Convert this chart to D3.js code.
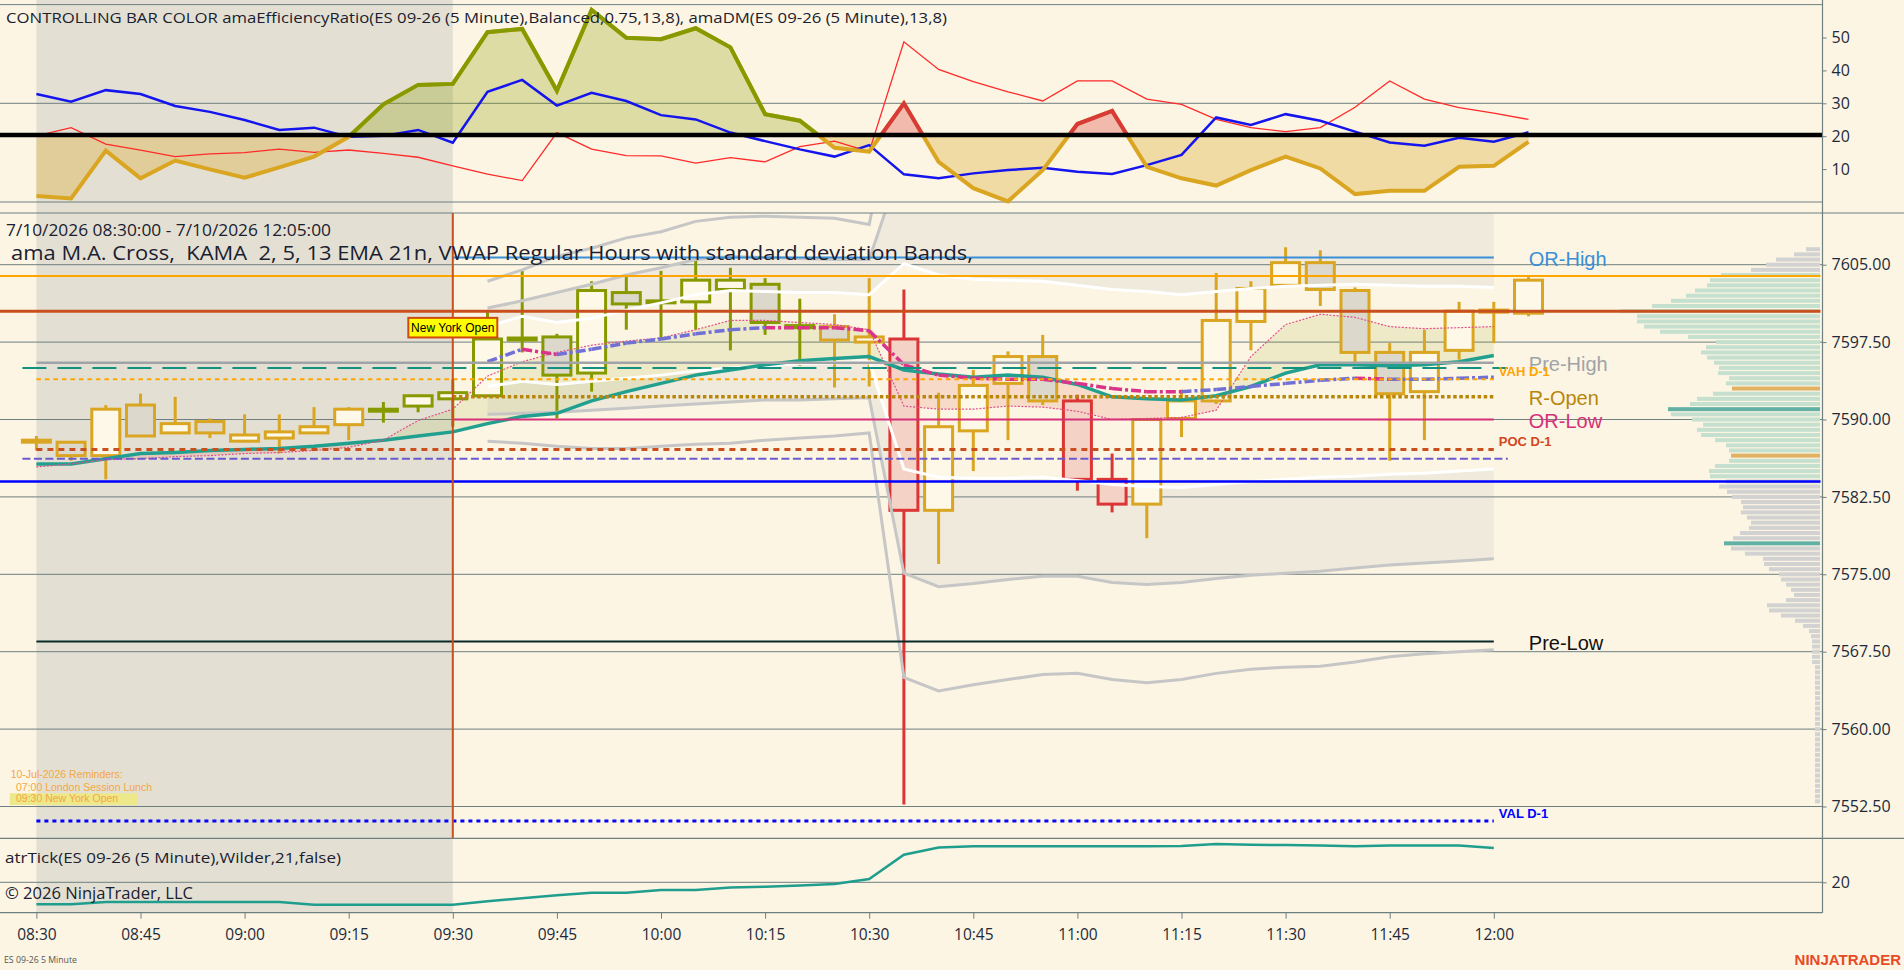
<!DOCTYPE html>
<html>
<head>
<meta charset="utf-8">
<title>ES 09-26 5 Minute</title>
<script src="https://cdn.jsdelivr.net/npm/d3@7"></script>
<style>
  html, body { margin: 0; padding: 0; background: #fcf5e3; overflow: hidden; }
  .axis text { font-family: "Open Sans", sans-serif; fill: #1e2a3a; }
  .axis line { stroke: #6e7f80; }
  .axis path { display: none; }
</style>
</head>
<body>
<div class="chart"></div>
<script>
// 5 minute bars, 7/10/2026
var barTimes = ["08:30","08:35","08:40","08:45","08:50","08:55","09:00","09:05","09:10","09:15",
                "09:20","09:25","09:30","09:35","09:40","09:45","09:50","09:55","10:00","10:05",
                "10:10","10:15","10:20","10:25","10:30","10:35","10:40","10:45","10:50","10:55",
                "11:00","11:05","11:10","11:15","11:20","11:25","11:30","11:35","11:40","11:45",
                "11:50","11:55","12:00","12:05"];
var timeTicks = ["08:30","08:45","09:00","09:15","09:30","09:45","10:00","10:15","10:30","10:45",
                 "11:00","11:15","11:30","11:45","12:00"];

var opens  = [7587.9,7587.8,7586.5,7591.4,7588.7,7589.8,7587.9,7588.2,7588.7,7589.5,
              7590.9,7591.3,7592.0,7592.3,7597.8,7598.0,7594.5,7602.3,7601.4,7601.4,
              7602.6,7603.1,7599.0,7599.0,7597.5,7597.8,7581.2,7588.9,7593.5,7596.1,
              7591.8,7584.2,7581.8,7590.1,7591.8,7599.5,7603.0,7605.2,7602.5,7596.5,
              7592.7,7596.7,7600.6,7600.3];
var highs  = [7588.4,7587.8,7591.4,7592.5,7592.2,7590.1,7590.5,7590.5,7591.2,7591.2,
              7591.7,7592.4,7593.9,7600.4,7604.4,7598.3,7603.4,7604.0,7604.4,7605.5,
              7604.7,7603.7,7601.7,7600.2,7603.7,7602.6,7592.6,7594.8,7596.6,7598.2,
              7592.4,7586.7,7590.0,7592.9,7604.2,7603.4,7606.7,7606.4,7602.8,7597.4,
              7598.7,7601.4,7601.4,7603.9];
var lows   = [7587.0,7586.0,7584.2,7588.4,7588.7,7588.2,7587.8,7586.7,7588.7,7588.0,
              7589.7,7590.7,7589.3,7592.3,7596.5,7590.1,7592.7,7598.7,7597.9,7598.7,
              7596.7,7598.2,7595.2,7593.1,7593.2,7552.7,7576.0,7585.0,7588.0,7591.4,
              7583.1,7581.0,7578.5,7588.3,7591.5,7596.7,7603.0,7601.0,7595.3,7586.0,
              7588.0,7595.8,7597.4,7600.0];
var closes = [7587.9,7586.5,7591.0,7588.4,7589.6,7588.7,7588.5,7588.8,7589.3,7591.0,
              7590.9,7592.3,7592.6,7597.8,7597.8,7594.3,7602.5,7601.2,7601.4,7603.5,
              7603.5,7599.4,7599.0,7597.7,7598.0,7581.2,7589.3,7593.3,7596.1,7591.8,
              7584.2,7581.8,7590.0,7591.8,7599.6,7602.7,7605.2,7602.6,7596.5,7592.5,
              7596.5,7600.5,7600.4,7603.5];
// controlling bar colour: g = balanced, o = trend up, r = trend down
var barRegime = ["g","g","g","g","g","g","g","g","g","g",
                 "o","o","o","o","o","o","o","o","o","o",
                 "o","o","o","g","g","r","g","g","g","g",
                 "r","r","g","g","g","g","g","g","g","g",
                 "g","g","g","g"];

// amaEfficiencyRatio + amaDM panel
var erValues = [1.8,1.1,15.6,7.2,12.6,9.9,7.4,10.5,13.8,19.8,
                29.7,35.6,35.9,51.6,52.6,33.8,58.4,49.9,49.5,52.8,
                47.0,26.7,24.7,16.5,15.3,30.0,12.2,4.2,0.2,9.7,
                23.7,27.7,10.7,7.2,5.0,9.7,13.8,10.2,2.4,3.4,
                3.4,10.7,11.0,18.3];
var dmPlus = [32.8,30.5,34.0,32.8,29.2,27.4,24.9,21.9,22.6,19.8,
              20.1,21.9,18.0,33.5,37.1,29.3,33.2,30.7,26.4,25.1,
              21.1,18.5,16.0,13.8,17.3,8.4,7.2,8.7,9.7,10.4,
              9.2,8.5,11.2,14.3,25.7,23.4,26.7,24.7,21.4,18.1,
              17.1,19.5,18.3,21.2];
var dmMinus = [20.1,22.6,17.6,15.8,13.8,14.6,15.0,16.1,15.1,15.8,
               14.8,13.6,11.0,8.5,6.5,21.1,16.1,14.1,14.0,11.8,
               13.5,12.2,16.8,18.5,15.3,48.7,40.3,36.6,33.5,30.7,
               36.8,36.8,31.3,29.7,25.1,22.6,21.4,22.6,28.8,36.8,
               31.3,28.7,27.0,25.1];
var erThreshold = 20.4;
var topTicks = [10, 20, 30, 40, 50];
var topGrid = [0, 30, 60];

// KAMA 2,5,13 and EMA 21 (08:30 - 12:00)
var kamaFast = [7585.4,7585.7,7586.1,7586.2,7586.4,7586.5,7586.7,7586.8,7587.0,7587.3,
                7588.0,7589.9,7591.0,7594.2,7595.6,7596.5,7597.2,7597.6,7597.9,7598.7,
                7599.6,7599.6,7599.4,7599.2,7598.7,7591.3,7591.0,7591.0,7591.3,7591.2,
                7590.8,7590.0,7590.1,7590.2,7590.9,7596.1,7599.2,7600.2,7599.9,7599.0,
                7598.8,7598.9,7599.0];
var ema21 = [7585.7,7585.7,7586.2,7586.7,7586.8,7587.0,7587.1,7587.2,7587.4,7587.7,
             7588.0,7588.4,7588.8,7589.6,7590.3,7590.6,7591.8,7592.7,7593.5,7594.3,
             7594.8,7595.3,7595.7,7595.9,7596.1,7594.8,7594.4,7594.1,7594.3,7594.1,
             7593.4,7592.2,7592.0,7591.9,7592.3,7593.2,7594.5,7595.3,7595.3,7595.2,
             7595.3,7595.6,7596.2];

// VWAP regular hours with deviation bands (09:35 - 12:00)
var vwapTimes = barTimes.slice(13, 43);
var vwap   = [7595.6,7596.8,7596.3,7596.8,7597.4,7597.8,7598.3,7598.7,7598.9,7598.9,
              7598.9,7598.6,7595.3,7594.3,7594.0,7593.9,7593.9,7593.5,7593.0,7592.7,
              7592.7,7592.9,7593.2,7593.5,7593.8,7594.0,7593.9,7593.9,7594.0,7594.1];
var vwapTrend = [1,-1,1,1,1,1,1,1,-1,-1,-1,-1,-1,-1,-1,-1,-1,-1,-1,-1,1,1,1,1,1,-1,1,1,1];
var upper1 = [7599.0,7600.0,7599.4,7599.8,7600.6,7601.3,7602.1,7602.5,7602.4,7602.3,
              7602.3,7602.1,7605.1,7604.0,7603.6,7603.5,7603.4,7603.0,7602.6,7602.4,
              7602.1,7602.4,7602.7,7602.9,7603.0,7603.1,7603.0,7602.9,7602.9,7602.8];
var lower1 = [7593.2,7593.7,7593.4,7593.7,7594.0,7594.3,7594.7,7595.0,7595.2,7595.4,
              7595.5,7595.6,7585.2,7584.4,7584.3,7584.3,7584.4,7584.1,7583.7,7583.5,
              7583.4,7583.7,7584.0,7584.2,7584.4,7584.5,7584.7,7584.8,7585.0,7585.2];
var upper2 = [7600.8,7601.5,7602.3,7603.1,7604.0,7604.7,7605.5,7605.8,7605.7,7605.6,
              7605.5,7605.5,7615.5,7614.8,7613.9,7613.3,7613.0,7612.2,7611.8,7611.4,
              7611.2,7611.2,7611.5,7611.9,7612.3,7612.4,7611.9,7611.7,7611.7,7611.7];
var lower2 = [7590.5,7590.6,7590.7,7590.9,7591.1,7591.3,7591.5,7591.7,7591.9,7591.9,
              7592.0,7592.1,7575.1,7573.8,7574.1,7574.5,7574.8,7574.8,7574.2,7574.0,
              7574.2,7574.6,7574.9,7575.1,7575.3,7575.6,7575.9,7576.1,7576.3,7576.5];
var upper3 = [7603.4,7604.5,7605.8,7606.6,7607.6,7608.2,7609.2,7609.6,7609.7,7609.6,
              7609.5,7608.9,7625.6,7625.1,7624.0,7623.2,7622.9,7622.0,7621.6,7621.0,
              7620.8,7620.6,7620.8,7621.0,7621.5,7621.6,7621.0,7620.7,7620.5,7620.4];
var lower3 = [7587.9,7587.7,7587.4,7587.2,7587.2,7587.4,7587.6,7587.7,7588.0,7588.2,
              7588.4,7588.7,7565.0,7563.7,7564.3,7564.8,7565.3,7565.4,7564.8,7564.5,
              7564.8,7565.4,7565.8,7566.0,7566.1,7566.5,7567.0,7567.3,7567.5,7567.7];

// atrTick Wilder 21 (ticks)
var atrValues = [14.5,14.5,15.1,15.1,15.1,15.1,15.1,15.1,14.4,14.4,
                 14.4,14.4,14.4,15.25,16.0,16.75,17.4,17.4,18.1,18.1,
                 18.7,18.9,19.2,19.6,20.8,26.9,28.7,29.0,29.0,29.0,
                 29.0,29.0,29.0,29.1,29.6,29.4,29.3,29.2,29.0,29.2,
                 29.2,29.2,28.6];
var atrTicks = [20];

// key levels
var levelKeys   = ["OR-High","ON-High","Prior-Close","Pre-High","ON-VWAP","VAH D-1","R-Open",
                   "OR-Low","POC D-1","ON-POC","ON-Low","Pre-Low","VAL D-1"];
var levelPrices = [7605.7,7603.9,7600.5,7595.5,7595.0,7593.9,7592.2,
                   7590.0,7587.1,7586.2,7584.0,7568.5,7551.1];

var priceTicks = [7605, 7597.5, 7590, 7582.5, 7575, 7567.5, 7560, 7552.5];

// session volume profile, 0.5 pt rows from 7606.5 down to 7553.0
var vpLevels = d3.range(7606.5, 7552.9, -0.5);
var vpVolume = [14,26,44,54,69,
                99,110,113,125,134,149,168,200,183,183,176,160,132,104,114,119,113,106,101,102,
                91,94,88,107,123,130,152,149,128,117,123,119,105,94,91,89,91,105,111,110,
                94,101,93,88,79,77,79,73,69,71,80,87,96,
                89,75,57,56,51,41,39,34,29,26,34,53,51,39,25,17,11,9,8,8,8,8,8,
                5,5,5,5,5,5,5,5,5,5,5,5,5,5,5,5,5,5,5,5,5,5,5,5,5,5,5];
var vpValueArea = [7584.5, 7604.0];
var vpPoc = [7591.0, 7578.0];
var vpMarked = [7593.0, 7586.5];

//--------------------------------------------------------------------------
var svgWidth = 1904;
var svgHeight = 970;
var axisX = 1822.5;
var topPanel = {top: 0, bottom: 213};
var mainPanel = {top: 213, bottom: 838.3};
var atrPanel = {top: 838.3, bottom: 912.7};
var gridColor = "#6e7f80";

var x = d3.scalePoint().domain(barTimes).range([36.4, 1528.5]);
var yTop = d3.scaleLinear().domain([0, 60]).range([202, 4.6]);
var yMain = d3.scaleLinear().domain([7552.5, 7605]).range([806.5, 264.7]);
var yAtr = d3.scaleLinear().domain([20, 30]).range([882.3, 842.3]);
function xi(i) { return x(barTimes[i]); }

var svg = d3.select(".chart")
    .append("svg")
    .attr("width", svgWidth)
    .attr("height", svgHeight)
    .style("font-family", "'Open Sans', sans-serif");

svg.append("rect").attr("width", svgWidth).attr("height", svgHeight).attr("fill", "#fcf5e3");

var defs = svg.append("defs");
defs.append("clipPath").attr("id", "clipTop")
    .append("rect").attr("x", 0).attr("y", topPanel.top).attr("width", axisX).attr("height", topPanel.bottom);
defs.append("clipPath").attr("id", "clipMain")
    .append("rect").attr("x", 0).attr("y", mainPanel.top).attr("width", axisX)
    .attr("height", mainPanel.bottom - mainPanel.top);

// pre-open session shading 08:30 - 09:30
svg.append("rect")
    .attr("x", x("08:30"))
    .attr("y", 0)
    .attr("width", x("09:30") - x("08:30"))
    .attr("height", atrPanel.bottom)
    .attr("fill", "#e3e0d3");

//---------------- top panel: efficiency ratio ----------------
var topG = svg.append("g").attr("clip-path", "url(#clipTop)");

topG.selectAll("line.grid").data(topGrid).enter().append("line")
    .attr("x1", 0).attr("x2", axisX)
    .attr("y1", function(d) { return yTop(d); })
    .attr("y2", function(d) { return yTop(d); })
    .attr("stroke", gridColor).attr("stroke-width", 1);

var thrY = yTop(erThreshold);

// clip zones built from the bar regime
function regimeZones(code) {
    var zones = [];
    barRegime.forEach(function(r, i) {
        if (r === code) zones.push([xi(Math.max(0, i - 1)), xi(Math.min(barTimes.length - 1, i + 1))]);
    });
    return zones;
}
function addZoneClip(id, zones) {
    var cp = defs.append("clipPath").attr("id", id);
    zones.forEach(function(z) {
        cp.append("rect").attr("x", z[0]).attr("y", 0).attr("width", z[1] - z[0]).attr("height", thrY);
    });
}
addZoneClip("erOlive", regimeZones("o"));
addZoneClip("erRed", regimeZones("r"));
defs.append("clipPath").attr("id", "erBelow")
    .append("rect").attr("x", 0).attr("y", thrY).attr("width", axisX).attr("height", topPanel.bottom - thrY);

var erIdx = d3.range(erValues.length);
var erArea = d3.area()
    .x(function(i) { return xi(i); })
    .y0(thrY)
    .y1(function(i) { return yTop(erValues[i]); });
var erLine = d3.line()
    .x(function(i) { return xi(i); })
    .y(function(i) { return yTop(erValues[i]); });

topG.append("path").attr("d", erArea(erIdx)).attr("fill", "rgba(218,165,32,0.32)").attr("clip-path", "url(#erBelow)");
topG.append("path").attr("d", erArea(erIdx)).attr("fill", "rgba(136,154,0,0.28)").attr("clip-path", "url(#erOlive)");
topG.append("path").attr("d", erArea(erIdx)).attr("fill", "rgba(220,50,50,0.3)").attr("clip-path", "url(#erRed)");

// amaDM lines
topG.append("path")
    .attr("d", d3.line().x(function(i) { return xi(i); }).y(function(i) { return yTop(dmMinus[i]); })(d3.range(dmMinus.length)))
    .attr("fill", "none").attr("stroke", "#ff2a2a").attr("stroke-width", 1.3);
topG.append("path")
    .attr("d", d3.line().x(function(i) { return xi(i); }).y(function(i) { return yTop(dmPlus[i]); })(d3.range(dmPlus.length)))
    .attr("fill", "none").attr("stroke", "#1414ee").attr("stroke-width", 2.5);

topG.append("path").attr("d", erLine(erIdx)).attr("fill", "none").attr("stroke", "#daa520").attr("stroke-width", 4);
topG.append("path").attr("d", erLine(erIdx)).attr("fill", "none").attr("stroke", "#869a00").attr("stroke-width", 4)
    .attr("clip-path", "url(#erOlive)");
topG.append("path").attr("d", erLine(erIdx)).attr("fill", "none").attr("stroke", "#d83a3a").attr("stroke-width", 4)
    .attr("clip-path", "url(#erRed)");

topG.append("line")
    .attr("x1", 0).attr("x2", axisX)
    .attr("y1", thrY).attr("y2", thrY)
    .attr("stroke", "#000").attr("stroke-width", 4.5);

svg.append("text")
    .attr("x", 6).attr("y", 22.7)
    .attr("font-size", 15).attr("fill", "#1a2030")
    .attr("textLength", 941).attr("lengthAdjust", "spacingAndGlyphs")
    .text("CONTROLLING BAR COLOR amaEfficiencyRatio(ES 09-26 (5 Minute),Balanced,0.75,13,8), amaDM(ES 09-26 (5 Minute),13,8)");

//---------------- main price panel ----------------
var mainG = svg.append("g").attr("clip-path", "url(#clipMain)");

// band fills between 1st and 2nd deviation
var vIdx = d3.range(vwap.length);
function bandArea(a, b) {
    return d3.area()
        .x(function(k) { return x(vwapTimes[k]); })
        .y0(function(k) { return yMain(a[k]); })
        .y1(function(k) { return yMain(b[k]); })(vIdx);
}
mainG.append("path").attr("d", bandArea(upper1, upper2)).attr("fill", "#efeadc");
mainG.append("path").attr("d", bandArea(lower1, lower2)).attr("fill", "#efeadc");

// grid
mainG.selectAll("line.grid").data(priceTicks).enter().append("line")
    .attr("x1", 0).attr("x2", axisX)
    .attr("y1", function(d) { return yMain(d); })
    .attr("y2", function(d) { return yMain(d); })
    .attr("stroke", gridColor).attr("stroke-width", 1);

// volume profile
var vpX = d3.scaleLinear().domain([0, 200]).range([0, 200]);
mainG.selectAll("rect.vp").data(vpLevels).enter().append("rect")
    .attr("class", "vp")
    .attr("x", function(d, k) { return 1820 - vpX(vpVolume[k]); })
    .attr("y", function(d) { return yMain(d) - 2; })
    .attr("width", function(d, k) { return vpX(vpVolume[k]); })
    .attr("height", 4)
    .attr("fill", function(d) {
        if (vpPoc.indexOf(d) >= 0) return "#62b0a6";
        if (vpMarked.indexOf(d) >= 0) return "#e2b264";
        if (d >= vpValueArea[0] && d <= vpValueArea[1]) return "#c6e0d0";
        return "#d2d2d2";
    });

// KAMA / EMA cross fill
var maIdx = d3.range(ema21.length);
defs.append("clipPath").attr("id", "aboveEma").append("path")
    .attr("d", d3.area().x(function(i) { return xi(i); }).y0(mainPanel.top)
        .y1(function(i) { return yMain(ema21[i]); })(maIdx));
defs.append("clipPath").attr("id", "belowEma").append("path")
    .attr("d", d3.area().x(function(i) { return xi(i); }).y0(mainPanel.bottom)
        .y1(function(i) { return yMain(ema21[i]); })(maIdx));
var maArea = d3.area()
    .x(function(i) { return xi(i); })
    .y0(function(i) { return yMain(ema21[i]); })
    .y1(function(i) { return yMain(kamaFast[i]); });
mainG.append("g").attr("clip-path", "url(#aboveEma)")
    .append("path").attr("d", maArea(maIdx)).attr("fill", "rgba(150,160,20,0.13)");
mainG.append("g").attr("clip-path", "url(#belowEma)")
    .append("path").attr("d", maArea(maIdx)).attr("fill", "rgba(225,70,50,0.15)");

// candles
var barColor = {g: "#daa520", o: "#869a00", r: "#dc3535"};
var bars = mainG.selectAll("g.bar").data(d3.range(barTimes.length)).enter().append("g").attr("class", "bar");
bars.append("line")
    .attr("x1", xi).attr("x2", xi)
    .attr("y1", function(i) { return yMain(highs[i]); })
    .attr("y2", function(i) { return yMain(lows[i]); })
    .attr("stroke", function(i) { return barColor[barRegime[i]]; })
    .attr("stroke-width", 3);
bars.append("rect")
    .attr("x", function(i) { return xi(i) - 14; })
    .attr("width", 28)
    .attr("y", function(i) {
        var h = Math.abs(yMain(opens[i]) - yMain(closes[i]));
        return h < 2 ? yMain(opens[i]) - 1 : yMain(Math.max(opens[i], closes[i]));
    })
    .attr("height", function(i) { return Math.max(2, Math.abs(yMain(opens[i]) - yMain(closes[i]))); })
    .attr("fill", function(i) {
        var h = Math.abs(yMain(opens[i]) - yMain(closes[i]));
        if (h < 2) return barColor[barRegime[i]];
        if (closes[i] >= opens[i]) return "#fdf8e8";
        return barRegime[i] === "r" ? "#f5d2c6" : "#dcd8cc";
    })
    .attr("stroke", function(i) { return barColor[barRegime[i]]; })
    .attr("stroke-width", 3);

// deviation band lines
function bandLine(arr) {
    return d3.line().x(function(k) { return x(vwapTimes[k]); }).y(function(k) { return yMain(arr[k]); })(vIdx);
}
[upper3, lower3, upper2, lower2].forEach(function(arr) {
    mainG.append("path").attr("d", bandLine(arr)).attr("fill", "none")
        .attr("stroke", "#c6c6c6").attr("stroke-width", 3);
});
[upper1, lower1].forEach(function(arr) {
    mainG.append("path").attr("d", bandLine(arr)).attr("fill", "none")
        .attr("stroke", "#ffffff").attr("stroke-width", 3);
});

// EMA 21 and KAMA
mainG.append("path")
    .attr("d", d3.line().x(function(i) { return xi(i); }).y(function(i) { return yMain(ema21[i]); })(maIdx))
    .attr("fill", "none").attr("stroke", "#22a08f").attr("stroke-width", 3.5);
mainG.append("path")
    .attr("d", d3.line().x(function(i) { return xi(i); }).y(function(i) { return yMain(kamaFast[i]); })(maIdx))
    .attr("fill", "none").attr("stroke", "#e0508a").attr("stroke-width", 1.2).attr("stroke-dasharray", "2,1.5");

// VWAP dash-dot, coloured per segment
vwapTrend.forEach(function(t, s) {
    mainG.append("path")
        .attr("d", d3.line().x(function(k) { return x(vwapTimes[k]); }).y(function(k) { return yMain(vwap[k]); })([s, s + 1]))
        .attr("fill", "none")
        .attr("stroke", t > 0 ? "#7070d6" : "#d9338a")
        .attr("stroke-width", 3.5)
        .attr("stroke-dasharray", "10,3,3,3");
});

// key level lines
var levelStyle = {
    "OR-High":     {color: "#3a8fd8", w: 2,   dash: null,    from: "09:30", to: "12:00", label: "big"},
    "ON-High":     {color: "#ffa500", w: 2,   dash: null,    from: null,    to: null},
    "Prior-Close": {color: "#c8501e", w: 3,   dash: null,    from: null,    to: null},
    "Pre-High":    {color: "#a0a4a8", w: 2.5, dash: null,    from: "08:30", to: "12:00", label: "big"},
    "ON-VWAP":     {color: "#129080", w: 2,   dash: "24,11", from: "08:30", to: "12:00", pad: 14},
    "VAH D-1":     {color: "#ffa500", w: 2,   dash: "4.5,4", from: "08:30", to: "12:00", label: "small"},
    "R-Open":      {color: "#b8860b", w: 3.5, dash: "3.5,2.6", from: "09:30", to: "12:00", label: "big"},
    "OR-Low":      {color: "#d6307a", w: 2,   dash: null,    from: "09:30", to: "12:00", label: "big"},
    "POC D-1":     {color: "#c8501e", w: 3,   dash: "6,5",   from: "08:30", to: "12:00", label: "small", labelColor: "#d2461e"},
    "ON-POC":      {color: "#6a5acd", w: 2,   dash: "8,3.5", from: "08:30", to: "12:00", pad: 14},
    "ON-Low":      {color: "#0000ff", w: 2.5, dash: null,    from: null,    to: null},
    "Pre-Low":     {color: "#0a2a2a", w: 2,   dash: null,    from: "08:30", to: "12:00", label: "big", labelColor: "#111"},
    "VAL D-1":     {color: "#0000ff", w: 3,   dash: "4,4",   from: "08:30", to: "12:00", label: "small"}
};
levelKeys.forEach(function(key, k) {
    var st = levelStyle[key];
    var pad = st.pad || 0;
    var y = yMain(levelPrices[k]);
    mainG.append("line")
        .attr("x1", st.from ? x(st.from) - pad : 0)
        .attr("x2", st.to ? x(st.to) + pad : axisX - 2)
        .attr("y1", y).attr("y2", y)
        .attr("stroke", st.color)
        .attr("stroke-width", st.w)
        .attr("stroke-dasharray", st.dash);
    if (st.label === "big") {
        mainG.append("text")
            .attr("x", x("12:00") + 35).attr("y", y + 8.5)
            .attr("font-family", "'Liberation Sans', Arial, sans-serif")
            .attr("font-size", 20)
            .attr("fill", st.labelColor || st.color)
            .text(key);
    } else if (st.label === "small") {
        mainG.append("text")
            .attr("x", x("12:00") + 5).attr("y", y - 3)
            .attr("font-family", "'Liberation Sans', Arial, sans-serif")
            .attr("font-size", 13).attr("font-weight", "bold")
            .attr("fill", st.labelColor || st.color)
            .text(key);
    }
});

// 09:30 session open marker
mainG.append("line")
    .attr("x1", x("09:30")).attr("x2", x("09:30"))
    .attr("y1", mainPanel.top).attr("y2", mainPanel.bottom)
    .attr("stroke", "#c8501e").attr("stroke-width", 2);

var nyG = mainG.append("g").attr("transform", "translate(" + x("09:30") + "," + yMain(7598.9) + ")");
nyG.append("rect").attr("x", -44.5).attr("y", -9.8).attr("width", 89).attr("height", 19.6)
    .attr("fill", "#ffff00").attr("stroke", "#d04a10").attr("stroke-width", 2);
nyG.append("text").attr("x", 0).attr("y", 4.5).attr("text-anchor", "middle")
    .attr("font-family", "'Liberation Sans', Arial, sans-serif").attr("font-size", 12).attr("fill", "#000")
    .text("New York Open");

// reminders
var remG = svg.append("g").attr("font-family", "'Liberation Sans', Arial, sans-serif").attr("font-size", 10.5);
remG.append("rect").attr("x", 9.8).attr("y", 793.3).attr("width", 127.7).attr("height", 11.7).attr("fill", "#ede88a");
remG.append("text").attr("x", 10.7).attr("y", 778.3).attr("fill", "#f5a742").text("10-Jul-2026 Reminders:");
remG.append("text").attr("x", 16).attr("y", 790.7).attr("fill", "#f5a742").text("07:00 London Session Lunch");
remG.append("text").attr("x", 16).attr("y", 802).attr("fill", "#f5a742").text("09:30 New York Open");

svg.append("text")
    .attr("x", 6).attr("y", 236)
    .attr("font-size", 15.5).attr("fill", "#1a2030")
    .attr("textLength", 325).attr("lengthAdjust", "spacingAndGlyphs")
    .text("7/10/2026 08:30:00 - 7/10/2026 12:05:00");
svg.append("text")
    .attr("x", 11).attr("y", 259.5)
    .attr("font-size", 20).attr("fill", "#1a2030")
    .style("white-space", "pre")
    .attr("textLength", 962).attr("lengthAdjust", "spacingAndGlyphs")
    .text("ama M.A. Cross,  KAMA  2, 5, 13 EMA 21n, VWAP Regular Hours with standard deviation Bands,");

//---------------- ATR panel ----------------
svg.selectAll("line.atrgrid").data(atrTicks).enter().append("line")
    .attr("x1", 0).attr("x2", axisX)
    .attr("y1", function(d) { return yAtr(d); })
    .attr("y2", function(d) { return yAtr(d); })
    .attr("stroke", gridColor).attr("stroke-width", 1);
svg.append("path")
    .attr("d", d3.line().x(function(i) { return xi(i); }).y(function(i) { return yAtr(atrValues[i]); })(d3.range(atrValues.length)))
    .attr("fill", "none").attr("stroke", "#1f9e8e").attr("stroke-width", 2.5);
svg.append("text")
    .attr("x", 5).attr("y", 862.7)
    .attr("font-size", 15).attr("fill", "#1a2030")
    .attr("textLength", 336).attr("lengthAdjust", "spacingAndGlyphs")
    .text("atrTick(ES 09-26 (5 Minute),Wilder,21,false)");
svg.append("text")
    .attr("x", 5).attr("y", 899.3)
    .attr("font-size", 16).attr("fill", "#1a2030")
    .attr("textLength", 188).attr("lengthAdjust", "spacingAndGlyphs")
    .text("\u00a9 2026 NinjaTrader, LLC");

//---------------- frames and axes ----------------
[topPanel.bottom, mainPanel.bottom].forEach(function(y) {
    svg.append("line").attr("x1", 0).attr("x2", svgWidth).attr("y1", y).attr("y2", y)
        .attr("stroke", gridColor).attr("stroke-width", 1.2);
});
svg.append("line").attr("x1", 0).attr("x2", axisX).attr("y1", atrPanel.bottom).attr("y2", atrPanel.bottom)
    .attr("stroke", gridColor).attr("stroke-width", 1.2);
svg.append("line").attr("x1", axisX).attr("x2", axisX).attr("y1", 0).attr("y2", atrPanel.bottom)
    .attr("stroke", gridColor).attr("stroke-width", 1.2);

var priceAxis = svg.append("g").attr("class", "axis")
    .attr("transform", "translate(" + axisX + ",0)")
    .call(d3.axisRight(yMain).tickValues(priceTicks).tickFormat(d3.format(".2f")).tickSize(4).tickPadding(5));
var topAxis = svg.append("g").attr("class", "axis")
    .attr("transform", "translate(" + axisX + ",0)")
    .call(d3.axisRight(yTop).tickValues(topTicks).tickFormat(d3.format("d")).tickSize(4).tickPadding(5));
var atrAxis = svg.append("g").attr("class", "axis")
    .attr("transform", "translate(" + axisX + ",0)")
    .call(d3.axisRight(yAtr).tickValues(atrTicks).tickFormat(d3.format("d")).tickSize(4).tickPadding(5));
svg.selectAll(".axis text").attr("font-size", 16);

var timeAxis = svg.append("g").attr("class", "axis")
    .attr("transform", "translate(0," + atrPanel.bottom + ")")
    .call(d3.axisBottom(x).tickValues(timeTicks).tickSize(6).tickPadding(10.5));
timeAxis.selectAll("text").attr("font-size", 15.5);

svg.append("text")
    .attr("x", 4).attr("y", 962.7)
    .attr("font-size", 9.5).attr("fill", "#555")
    .attr("textLength", 73).attr("lengthAdjust", "spacingAndGlyphs")
    .text("ES 09-26 5 Minute");
svg.append("text")
    .attr("x", 1901).attr("y", 965)
    .attr("text-anchor", "end")
    .attr("font-family", "'Liberation Sans', Arial, sans-serif")
    .attr("font-size", 15).attr("font-weight", "bold").attr("fill", "#e84a27")
    .text("NINJATRADER");
</script>
</body>
</html>
